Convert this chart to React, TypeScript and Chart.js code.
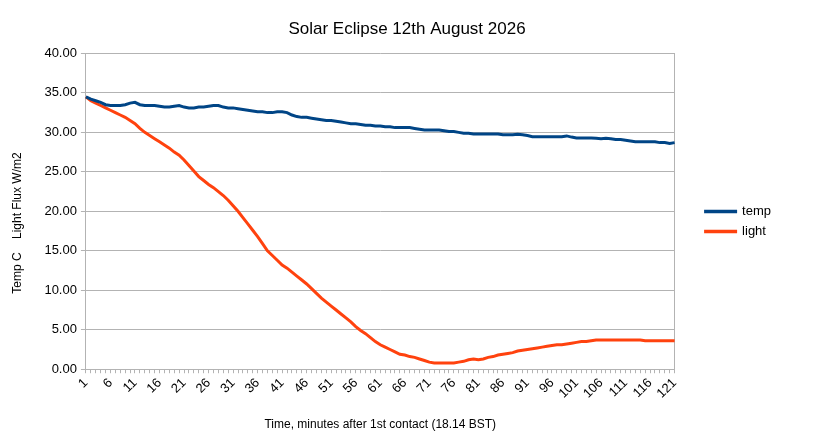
import React, { useEffect, useRef } from "react";
import { Chart, registerables } from "chart.js";

Chart.register(...registerables);

const minutes: string[] = Array.from({ length: 121 }, (_, i) => String(i + 1));

const tempValues: number[] = [
  34.5, 34.2, 34.0, 33.8, 33.5, 33.4, 33.4, 33.4, 33.5, 33.7,
  33.8, 33.5, 33.4, 33.4, 33.4, 33.3, 33.2, 33.2, 33.3, 33.4,
  33.2, 33.1, 33.1, 33.2, 33.2, 33.3, 33.4, 33.4, 33.2, 33.1,
  33.1, 33.0, 32.9, 32.8, 32.7, 32.6, 32.6, 32.5, 32.5, 32.6,
  32.6, 32.5, 32.2, 32.0, 31.9, 31.9, 31.8, 31.7, 31.6, 31.5,
  31.5, 31.4, 31.3, 31.2, 31.1, 31.1, 31.0, 30.9, 30.9, 30.8,
  30.8, 30.7, 30.7, 30.6, 30.6, 30.6, 30.6, 30.5, 30.4, 30.3,
  30.3, 30.3, 30.3, 30.2, 30.1, 30.1, 30.0, 29.9, 29.9, 29.8,
  29.8, 29.8, 29.8, 29.8, 29.8, 29.7, 29.7, 29.7, 29.75, 29.7,
  29.6, 29.45, 29.45, 29.45, 29.45, 29.45, 29.45, 29.45, 29.55, 29.4,
  29.3, 29.3, 29.3, 29.3, 29.25, 29.2, 29.25, 29.2, 29.1, 29.1,
  29.0, 28.9, 28.8, 28.8, 28.8, 28.8, 28.8, 28.7, 28.7, 28.6,
  28.7,
];

const lightValues: number[] = [
  34.5, 34.0, 33.7, 33.4, 33.1, 32.8, 32.5, 32.2, 31.9, 31.5,
  31.1, 30.5, 30.0, 29.6, 29.2, 28.8, 28.4, 28.0, 27.5, 27.1,
  26.5, 25.8, 25.1, 24.4, 23.9, 23.4, 23.0, 22.5, 22.0, 21.4,
  20.7, 20.0, 19.2, 18.4, 17.6, 16.8, 15.9, 15.0, 14.4, 13.8,
  13.2, 12.8, 12.3, 11.8, 11.3, 10.8, 10.2, 9.6, 9.0, 8.5,
  8.0, 7.5, 7.0, 6.5, 6.0, 5.4, 4.9, 4.5, 4.0, 3.5,
  3.1, 2.8, 2.5, 2.2, 1.9, 1.8, 1.6, 1.5, 1.3, 1.1,
  0.9, 0.8, 0.8, 0.8, 0.8, 0.8, 0.9, 1.0, 1.2, 1.3,
  1.2, 1.3, 1.5, 1.6, 1.8, 1.9, 2.0, 2.1, 2.3, 2.4,
  2.5, 2.6, 2.7, 2.8, 2.9, 3.0, 3.1, 3.1, 3.2, 3.3,
  3.4, 3.5, 3.5, 3.6, 3.7, 3.7, 3.7, 3.7, 3.7, 3.7,
  3.7, 3.7, 3.7, 3.7, 3.6, 3.6, 3.6, 3.6, 3.6, 3.6,
  3.6,
];

const titleText = "Solar Eclipse 12th August 2026";
const yTitle = "Temp C    Light Flux W/m2       ";
const xTitle = "Time, minutes after 1st contact (18.14 BST)";

export default function App() {
  const ref = useRef<HTMLCanvasElement | null>(null);

  useEffect(() => {
    if (!ref.current) return;
    Chart.defaults.font.family = "'Liberation Sans', Arial, sans-serif";
    Chart.defaults.color = "#000";
    const chart = new Chart(ref.current, {
      type: "line",
      data: {
        labels: minutes,
        datasets: [
          {
            label: "temp",
            data: tempValues,
            borderColor: "#004586",
            backgroundColor: "#004586",
            borderWidth: 3,
            pointRadius: 0,
            tension: 0,
          },
          {
            label: "light",
            data: lightValues,
            borderColor: "#ff420e",
            backgroundColor: "#ff420e",
            borderWidth: 3,
            pointRadius: 0,
            tension: 0,
          },
        ],
      },
      options: {
        responsive: false,
        animation: false,
        layout: { padding: { left: 33, right: 34, top: 0, bottom: 8 } },
        plugins: {
          title: {
            display: true,
            text: titleText,
            font: { size: 17, weight: "normal" },
            color: "#000",
            padding: { top: 19, bottom: 14 },
          },
          legend: {
            position: "right",
            title: { display: true, text: " ", font: { size: 1 }, padding: 5 },
            labels: {
              boxWidth: 30,
              boxHeight: 0.5,
              padding: 7,
              font: { size: 13 },
              color: "#000",
            },
          },
          tooltip: { enabled: false },
        },
        scales: {
          x: {
            type: "category",
            offset: false,
            grid: {
              display: true,
              drawOnChartArea: false,
              drawTicks: true,
              tickLength: 4,
              color: "#b3b3b3",
            },
            border: { display: true, color: "#b3b3b3" },
            ticks: {
              autoSkip: false,
              maxRotation: 45,
              minRotation: 45,
              font: { size: 13 },
              color: "#000",
              padding: 2,
              callback: (_v: any, i: number) => (i % 5 === 0 ? minutes[i] : ""),
            },
            title: {
              display: true,
              text: xTitle,
              font: { size: 12 },
              color: "#000",
              padding: { top: 14, bottom: 0 },
            },
          },
          y: {
            min: 0,
            max: 40,
            grid: { color: "#b3b3b3", tickLength: 5 },
            border: { display: true, color: "#b3b3b3" },
            ticks: {
              stepSize: 5,
              font: { size: 13 },
              color: "#000",
              padding: 4,
              callback: (v: any) => Number(v).toFixed(2),
            },
            title: {
              display: true,
              text: yTitle,
              font: { size: 12 },
              color: "#000",
              padding: { top: -23, bottom: 16 },
            },
          },
          y2: {
            position: "right",
            min: 0,
            max: 40,
            grid: { drawOnChartArea: false, drawTicks: false },
            border: { display: true, color: "#b3b3b3" },
            ticks: { display: false },
            afterFit: (scale: any) => {
              scale.width = 24;
            },
          },
        },
      },
    });
    return () => chart.destroy();
  }, []);

  return (
    <div style={{ position: "fixed", left: 0, top: 0, width: 815, height: 440, background: "#fff" }}>
      <canvas ref={ref} width={815} height={440} />
    </div>
  );
}
